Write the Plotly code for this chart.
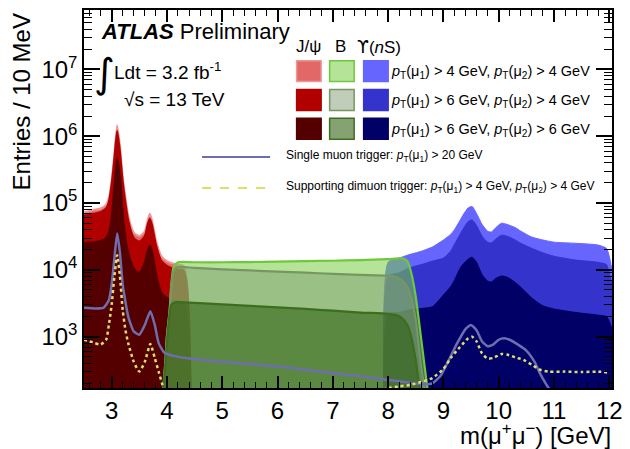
import plotly.graph_objects as go

# ---------------- data ----------------
jpsi_mass = [2.5, 2.6, 2.7, 2.8, 2.9, 2.95, 3.0, 3.05, 3.1, 3.15, 3.2, 3.25, 3.3, 3.4, 3.5, 3.6, 3.65, 3.69,
             3.73, 3.8, 3.9, 4.0, 4.1, 4.2, 4.3, 4.35, 4.4, 4.43]
jpsi_44 = [7.3e4, 7.6e4, 8.0e4, 8.3e4, 9.5e4, 1.2e5, 2.2e5, 5.5e5, 1.45e6, 7e5, 2.5e5, 1.2e5, 6.5e4, 3.6e4, 3.2e4,
           3.8e4, 5.5e4, 6.9e4, 5.5e4, 2.8e4, 1.6e4, 1.35e4, 1.25e4, 1.2e4, 1.15e4, 8000, 2000, 150]
jpsi_64 = [6.5e4, 6.7e4, 7.0e4, 7.3e4, 8.3e4, 1.05e5, 1.9e5, 4.7e5, 1.2e6, 5.9e5, 2.1e5, 1.0e5, 5.5e4, 3.0e4, 2.65e4,
           3.2e4, 4.7e4, 5.9e4, 4.7e4, 2.4e4, 1.35e4, 1.15e4, 1.05e4, 1.0e4, 9.8e3, 7000, 1800, 150]
jpsi_66 = [2.5e4, 2.55e4, 2.6e4, 2.7e4, 3.0e4, 3.6e4, 6e4, 1.8e5, 4.7e5, 2.5e5, 7e4, 3e4, 1.8e4, 1.05e4, 9e3,
           1.3e4, 1.9e4, 2.3e4, 1.9e4, 9e3, 4.5e3, 3.8e3, 3.5e3, 3.4e3, 3.3e3, 2500, 700, 150]

b_mass = [3.93, 3.97, 4.0, 4.05, 4.08, 4.12, 4.2, 4.5, 5.0, 5.5, 6.0, 6.5, 7.0, 7.5, 8.0, 8.15, 8.25, 8.35, 8.42,
          8.5, 8.6, 8.7, 8.75]
b_44 = [150, 400, 1000, 2500, 6000, 11000, 13000, 13000, 13000, 13100, 13300, 13500, 13700, 14000, 14500, 14800,
        15000, 13500, 9000, 4000, 900, 200, 100]
b_64 = [150, 400, 1000, 2500, 6000, 9500, 11000, 10700, 10200, 9800, 9400, 9100, 8700, 8400, 8200, 7800, 7000,
        5500, 3800, 1800, 350, 120, 100]
b_66 = [150, 350, 800, 2200, 3000, 3200, 3300, 3200, 3050, 2900, 2750, 2600, 2450, 2300, 2200, 2100, 1900, 1500,
        1000, 450, 130, 100, 100]

ups_mass = [7.92, 8.0, 8.2, 8.35, 8.6, 8.8, 9.0, 9.13, 9.2, 9.3, 9.35, 9.45, 9.52, 9.6, 9.7, 9.8, 9.87, 9.95,
            10.05, 10.15, 10.3, 10.4, 10.6, 10.8, 11.0, 11.4, 11.8, 11.95, 12.0, 12.05]
ups_44 = [150, 1.3e4, 1.5e4, 1.66e4, 1.9e4, 2.2e4, 2.8e4, 3.4e4, 4.0e4, 5.5e4, 6.5e4, 8.5e4, 8.9e4, 7.0e4, 4.8e4,
          3.8e4, 3.7e4, 4.3e4, 5.0e4, 4.8e4, 4.3e4, 3.8e4, 3.1e4, 2.8e4, 2.6e4, 2.5e4, 2.35e4, 2.1e4, 1.6e4, 1.0e4]
ups_64 = [150, 8e3, 9e3, 1.05e4, 1.2e4, 1.35e4, 1.5e4, 1.9e4, 2.4e4, 3.4e4, 4.0e4, 5.3e4, 5.6e4, 4.6e4, 3.2e4,
          2.6e4, 2.55e4, 2.9e4, 3.3e4, 3.2e4, 2.8e4, 2.5e4, 2.1e4, 1.8e4, 1.6e4, 1.4e4, 1.3e4, 1.2e4, 9e3, 6e3]
ups_66 = [150, 2.2e3, 2.3e3, 2.5e3, 2.65e3, 2.8e3, 4.2e3, 5.6e3, 7e3, 1.05e4, 1.2e4, 1.45e4, 1.55e4, 1.3e4, 8.5e3,
          6.8e3, 6.6e3, 7.5e3, 8.1e3, 7.8e3, 6.5e3, 5.5e3, 3.8e3, 2.9e3, 2.6e3, 2.3e3, 2.1e3, 2.0e3, 1.7e3, 1.3e3]

mu20_mass = [2.5, 2.7, 2.85, 2.95, 3.0, 3.05, 3.1, 3.15, 3.2, 3.3, 3.4, 3.5, 3.6, 3.7, 3.78, 3.85, 3.95, 4.1, 4.5,
             5.0, 5.5, 6.0, 6.5, 7.0, 7.5, 8.0, 8.4, 8.6, 8.8, 8.95, 9.1, 9.25, 9.4, 9.5, 9.6, 9.7, 9.8, 9.9, 10.0,
             10.1, 10.2, 10.35, 10.5, 10.65, 10.75, 10.85, 10.95, 11.05]
mu20 = [2700, 2650, 2700, 3500, 6000, 1.5e4, 3.5e4, 1.8e4, 6000, 2000, 1200, 1070, 1500, 2400, 1500, 800, 580, 520,
        460, 425, 390, 360, 320, 285, 255, 225, 205, 195, 200, 260, 450, 800, 1300, 1500, 1250, 850, 720, 760, 900,
        950, 900, 760, 620, 420, 280, 200, 150, 120]

mu4_mass = [2.5, 2.6, 2.7, 2.8, 2.9, 2.95, 3.0, 3.05, 3.1, 3.15, 3.2, 3.25, 3.3, 3.4, 3.5, 3.6, 3.7, 3.78, 3.85,
            3.92, 4.0, 5.0, 6.0, 7.0, 7.6, 7.8, 8.0, 8.2, 8.4, 8.6, 8.8, 9.0, 9.15, 9.3, 9.45, 9.52, 9.6, 9.7, 9.8,
            9.9, 10.05, 10.15, 10.3, 10.45, 10.6, 10.75, 10.9, 11.2, 11.5, 11.8, 12.0]
mu4 = [900, 850, 800, 760, 900, 1500, 3000, 8000, 1.66e4, 8000, 2500, 1250, 800, 420, 300, 420, 780, 480, 300, 190,
       120, 110, 110, 120, 135, 150, 170, 180, 190, 210, 240, 330, 500, 700, 950, 1000, 850, 560, 470, 480, 550,
       540, 490, 450, 380, 320, 300, 300, 295, 300, 290]

y_tickvals = [1e3, 1e4, 1e5, 1e6, 1e7]
y_ticktext = ["10<sup>3</sup>", "10<sup>4</sup>", "10<sup>5</sup>", "10<sup>6</sup>", "10<sup>7</sup>"]
sel_labels = ["<i>p</i><sub>T</sub>(μ<sub>1</sub>) > 4 GeV, <i>p</i><sub>T</sub>(μ<sub>2</sub>) > 4 GeV",
              "<i>p</i><sub>T</sub>(μ<sub>1</sub>) > 6 GeV, <i>p</i><sub>T</sub>(μ<sub>2</sub>) > 4 GeV",
              "<i>p</i><sub>T</sub>(μ<sub>1</sub>) > 6 GeV, <i>p</i><sub>T</sub>(μ<sub>2</sub>) > 6 GeV"]

# ---------------- styles ----------------
FONT = "Liberation Sans, Arial, Helvetica, sans-serif"
red_fill = ["rgb(226,104,104)", "rgb(176,0,0)", "rgb(84,0,0)"]
red_line = ["rgb(238,150,150)", "rgb(176,0,0)", "rgb(84,0,0)"]
blue_fill = ["rgb(102,102,255)", "rgb(52,52,204)", "rgb(0,0,102)"]
green_fill = ["rgba(120,205,70,0.55)", "rgba(130,155,115,0.50)", "rgba(50,100,20,0.60)"]
green_line = ["rgb(110,200,60)", "rgb(120,150,100)", "rgb(60,110,30)"]
mu20_color = "rgb(110,110,175)"
mu4_color = "rgb(222,222,110)"

fig = go.Figure()

for ys, fc in zip([ups_44, ups_64, ups_66], blue_fill):
    fig.add_trace(go.Scatter(x=ups_mass, y=ys, mode="lines", fill="tozeroy", fillcolor=fc,
                             line=dict(color=fc, width=1, shape="spline", smoothing=0.6), hoverinfo="skip"))
for ys, fc, lc in zip([jpsi_44, jpsi_64, jpsi_66], red_fill, red_line):
    fig.add_trace(go.Scatter(x=jpsi_mass, y=ys, mode="lines", fill="tozeroy", fillcolor=fc,
                             line=dict(color=lc, width=2, shape="spline", smoothing=0.6), hoverinfo="skip"))
for ys, fc, lc in zip([b_44, b_64, b_66], green_fill, green_line):
    fig.add_trace(go.Scatter(x=b_mass, y=ys, mode="lines", fill="tozeroy", fillcolor=fc,
                             line=dict(color=lc, width=2.2, shape="spline", smoothing=0.6), hoverinfo="skip"))

fig.add_trace(go.Scatter(x=mu20_mass, y=mu20, mode="lines",
                         line=dict(color=mu20_color, width=2.5, shape="spline", smoothing=0.5), hoverinfo="skip"))
fig.add_trace(go.Scatter(x=mu4_mass, y=mu4, mode="lines",
                         line=dict(color=mu4_color, width=2.5, dash="dot", shape="spline", smoothing=0.5),
                         hoverinfo="skip"))

# ---------------- layout ----------------
# plot-area edges in page pixels; the page body has an 8 px margin
OFF = 8
W, H = 630, 449
PL, PR, PT, PB = 84, 611.7, 8, 388.3


def px(x):
    return (x - PL) / (PR - PL)


def py(y):
    return (PB - y) / (PB - PT)


annotations = []
shapes = []


def text(x, y, s, size, xanchor="left", yanchor="middle", family=FONT, angle=0):
    annotations.append(dict(x=px(x), y=py(y), xref="paper", yref="paper", text=s, showarrow=False,
                            xanchor=xanchor, yanchor=yanchor, textangle=angle, borderpad=0,
                            font=dict(family=family, size=size, color="black")))


text(100, 30, "<b><i>ATLAS</i></b> Preliminary", 22)
text(104, 71, "∫", 40, xanchor="center", family="DejaVu Sans")
text(113, 69, "Ldt = 3.2 fb<sup>-1</sup>", 19)
text(123, 98, "√s = 13 TeV", 19)
text(308, 45, "J/ψ", 17, xanchor="center")
text(340, 45, "B", 17, xanchor="center")
text(379, 45, "<span style='font-family:DejaVu Sans'>ϒ</span>(<i>n</i>S)", 17, xanchor="center")
row_y = [69.5, 98.5, 127.5]
cols = [(296.5, 321), (329.5, 354), (363.5, 388)]
for r, yc in enumerate(row_y):
    text(390, yc + 1, sel_labels[r], 14.5)
    for c, (x0, x1) in enumerate(cols):
        if c == 0:
            fc, lc = red_fill[r], red_line[r] if r == 0 else red_fill[r]
        elif c == 1:
            fc, lc = green_fill[r], green_line[r]
        else:
            fc, lc = blue_fill[r], blue_fill[r]
        shapes.append(dict(type="rect", xref="paper", yref="paper", x0=px(x0), x1=px(x1),
                           y0=py(yc - 10.5), y1=py(yc + 10.5), fillcolor=fc, line=dict(color=lc, width=1.5)))

shapes.append(dict(type="line", xref="paper", yref="paper", x0=px(202), x1=px(270), y0=py(156), y1=py(156),
                   line=dict(color=mu20_color, width=2)))
shapes.append(dict(type="line", xref="paper", yref="paper", x0=px(202), x1=px(270), y0=py(187), y1=py(187),
                   line=dict(color=mu4_color, width=2, dash="dash")))
text(285, 155, "Single muon trigger: <i>p</i><sub>T</sub>(μ<sub>1</sub>) > 20 GeV", 12)
text(285, 186, "Supporting dimuon trigger: <i>p</i><sub>T</sub>(μ<sub>1</sub>) > 4 GeV, "
               "<i>p</i><sub>T</sub>(μ<sub>2</sub>) > 4 GeV", 12)

text(22, 10, "Entries / 10 MeV", 24, xanchor="center", yanchor="top", angle=-90)
text(612, 435, "m(μ<sup>+</sup>μ<sup>−</sup>) [GeV]", 24, xanchor="right")

minor_y = [k * 10 ** d for d in range(2, 8) for k in range(2, 10)]

fig.update_layout(
    width=W, height=H,
    margin=dict(l=PL - OFF, r=W - (PR - OFF), t=PT - OFF, b=H - (PB - OFF)),
    paper_bgcolor="white", plot_bgcolor="white",
    showlegend=False,
    font=dict(family=FONT, size=23, color="black"),
    annotations=annotations, shapes=shapes,
    xaxis=dict(range=[2.5, 12.05], showgrid=False, zeroline=False, showline=True, linecolor="black",
               linewidth=1.5, mirror="ticks", ticks="inside", ticklen=12, tickwidth=1.5, tickcolor="black",
               tick0=0, dtick=1, tickfont=dict(size=24),
               minor=dict(ticks="inside", ticklen=6, tickwidth=1, tickcolor="black", dtick=0.2, showgrid=False)),
    yaxis=dict(type="log", range=[2.232, 7.89], showgrid=False, zeroline=False, showline=True,
               linecolor="black", linewidth=1.5, mirror="ticks", ticks="inside", ticklen=16, tickwidth=1.5,
               tickcolor="black", tickmode="array", tickvals=y_tickvals, ticktext=y_ticktext,
               tickfont=dict(size=24),
               minor=dict(ticks="inside", ticklen=8, tickwidth=1, tickcolor="black", tickmode="array",
                          tickvals=minor_y, showgrid=False)),
)

fig.write_html("out.html")
